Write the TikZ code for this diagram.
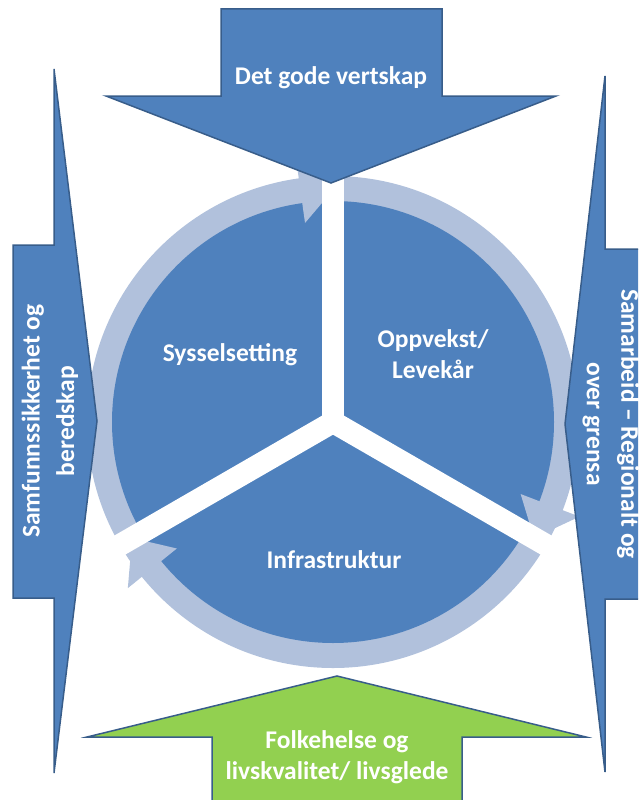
\documentclass[tikz,border=0pt]{standalone}
\usepackage{fontspec}
\setmainfont{Carlito}
\definecolor{dkblue}{HTML}{4F81BD}
\definecolor{bordblue}{HTML}{385D8A}
\definecolor{ringblue}{HTML}{B1C1DC}
\definecolor{grn}{HTML}{92D050}
\begin{document}
\begin{tikzpicture}[x=1pt,y=-1pt,
  bigarrow/.style={fill=dkblue, draw=bordblue, line width=1.5pt, line join=miter},
  greenarrow/.style={bigarrow, fill=grn},
  ringhead/.style={fill=ringblue},
  sepline/.style={draw=white, line width=22pt},
  lbl/.style={text=white, font=\fontsize{25.5}{31}\selectfont\bfseries, align=center, inner sep=0pt},
  sidelbl/.style={lbl, font=\fontsize{25.5}{34.5}\selectfont\bfseries}]
\useasboundingbox (0,0) rectangle (638,800);
\begin{scope}
\clip (0,0) rectangle (638,800);
\coordinate (C) at (333,422);
% ring and pie
\fill[ringblue] (C) circle[radius=246pt];
\fill[dkblue] (C) circle[radius=221pt];
% arrowheads of the cycle
\begin{scope}[shift={(333,422)}]
\fill[ringhead] (-98:201) -- (-98:264) -- (-90:232) -- cycle;
\fill[ringhead] (21:201) -- (21:264) -- (30:232) -- cycle;
\fill[ringhead] (141:201) -- (141:264) -- (150:232) -- cycle;
\coordinate (e1) at (-90:268);
\coordinate (e2) at (30:268);
\coordinate (e3) at (150:268);
\end{scope}
% separators
\draw[sepline] (C) -- (e1);
\draw[sepline] (C) -- (e2);
\draw[sepline] (C) -- (e3);
\fill[white] (C) circle[radius=11pt];
% big arrows
\draw[bigarrow] (221,9) -- (442,9) -- (442,96) -- (556,96) -- (331,183) -- (106,96) -- (221,96) -- cycle;
\draw[bigarrow] (13,245) -- (54,245) -- (54,69) -- (97,421) -- (54,773) -- (54,598) -- (13,598) -- cycle;
\draw[bigarrow] (660,249) -- (605,249) -- (605,76) -- (565,424) -- (605,772) -- (605,599) -- (660,599) -- cycle;
\draw[greenarrow] (212,815) -- (212,737) -- (87,737) -- (337,676) -- (586,737) -- (462,737) -- (462,815) -- cycle;
% labels
\node[lbl] (t1) at (331,78) {Det gode vertskap};
\node[sidelbl, rotate=90] (t2) at (50,421) {Samfunnssikkerhet og\\beredskap};
\node[sidelbl, rotate=-90] (t3) at (611,424) {Samarbeid – Regionalt og\\over grensa};
\node[lbl] (t4) at (337,757) {Folkehelse og\\livskvalitet/ livsglede};
\node[lbl] (s1) at (230,355) {Sysselsetting};
\node[lbl] (s2) at (433,354) {Oppvekst/\\Levekår};
\node[lbl] (s3) at (334,560) {Infrastruktur};
\end{scope}
\end{tikzpicture}
\end{document}
